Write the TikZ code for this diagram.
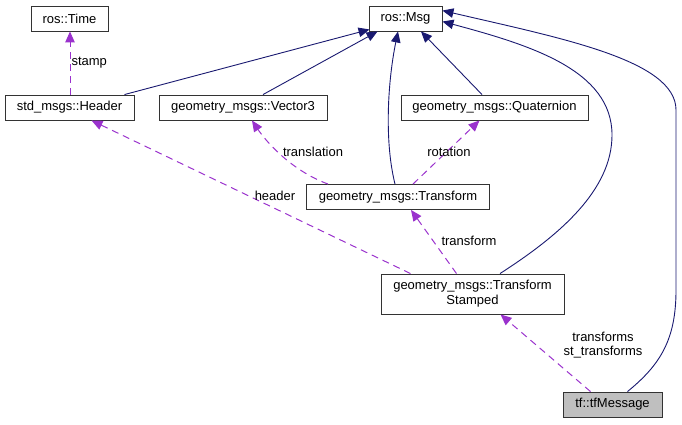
\documentclass[tikz,border=0pt]{standalone}
\usepackage{fontspec}
\setmainfont{Liberation Sans}
\usepackage{xcolor}
\usepackage{tikz}
\usetikzlibrary{arrows.meta}
\definecolor{inhblue}{HTML}{191970}
\definecolor{usepurple}{HTML}{9A32CD}
\definecolor{boxgrey}{HTML}{BFBFBF}
\begin{document}
\begin{tikzpicture}[x=1pt,y=-1pt,font=\fontsize{13}{15}\selectfont,
  cls/.style={draw=black!80,line width=0.9pt,minimum height=25pt,inner sep=2pt,align=center},
  inh/.style={draw=inhblue,line width=0.9pt,-{Triangle[length=11pt,width=9.5pt]}},
  uses/.style={draw=usepurple,line width=1pt,dash pattern=on 7pt off 5pt,-{Triangle[length=11pt,width=9.5pt]}},
  lbl/.style={inner sep=1pt,align=center}]
\useasboundingbox (0,0) rectangle (682,424);
% klasy
\node[cls,minimum width=77pt] (time) at (69.5,18.5) {ros::Time};
\node[cls,minimum width=73pt] (msg) at (405.5,18.5) {ros::Msg};
\node[cls,minimum width=129pt] (hdr) at (69.5,107.5) {std\_msgs::Header};
\node[cls,minimum width=168pt] (vec) at (243,107.5) {geometry\_msgs::Vector3};
\node[cls,minimum width=187pt] (quat) at (494.5,107.5) {geometry\_msgs::Quaternion};
\node[cls,minimum width=183pt] (tr) at (398,197) {geometry\_msgs::Transform};
\node[cls,minimum width=183pt,minimum height=40pt] (ts) at (472.5,294) {geometry\_msgs::Transform\\Stamped};
\node[cls,fill=boxgrey,minimum width=99pt] (tfm) at (612.5,404.5) {tf::tfMessage};
% dziedziczenie
\draw[inh] ([xshift=55pt]hdr.north) -- ([xshift=1pt,yshift=2pt]msg.south west);
\draw[inh] ([xshift=20pt]vec.north) -- ([xshift=9pt]msg.south west);
\draw[inh] ([xshift=-3pt]tr.north) .. controls (384,140) and (388,80) .. ([xshift=-7.5pt]msg.south);
\draw[inh] ([xshift=-12.5pt]quat.north) -- ([xshift=15.5pt]msg.south);
\draw[inh] ([xshift=27.5pt]ts.north) .. controls (560,235) and (612,190) .. (612,135) .. controls (612,70) and (530,45) .. ([yshift=-3pt]msg.east);
\draw[inh] ([xshift=15pt]tfm.north) .. controls (660,365) and (676,340) .. (676,290) -- (676,110) .. controls (676,60) and (560,38) .. ([yshift=-5pt]msg.north east);
% pola
\draw[uses] ([xshift=0.5pt]hdr.north) -- ([xshift=0.5pt]time.south) node[lbl,pos=0.5,right] (lstamp) {stamp};
\draw[uses] ([xshift=-62pt]ts.north) -- ([xshift=22pt]hdr.south);
\node[lbl] (lheader) at (275,196) {header};
\draw[uses] ([xshift=-70pt]tr.north) .. controls (290,170) and (265,140) .. ([xshift=9pt]vec.south);
\node[lbl] (ltransl) at (313,152) {translation};
\draw[uses] ([xshift=15pt]tr.north) -- ([xshift=-15pt]quat.south);
\node[lbl] (lrot) at (449,152) {rotation};
\draw[uses] ([xshift=-16pt]ts.north) -- ([xshift=13pt]tr.south);
\node[lbl] (ltrans) at (469,241) {transform};
\draw[uses] ([xshift=-22pt]tfm.north) -- ([xshift=28pt]ts.south);
\node[lbl,font=\fontsize{13}{14.5}\selectfont] (lts) at (603,345) {transforms\\st\_transforms};
\end{tikzpicture}
\end{document}
